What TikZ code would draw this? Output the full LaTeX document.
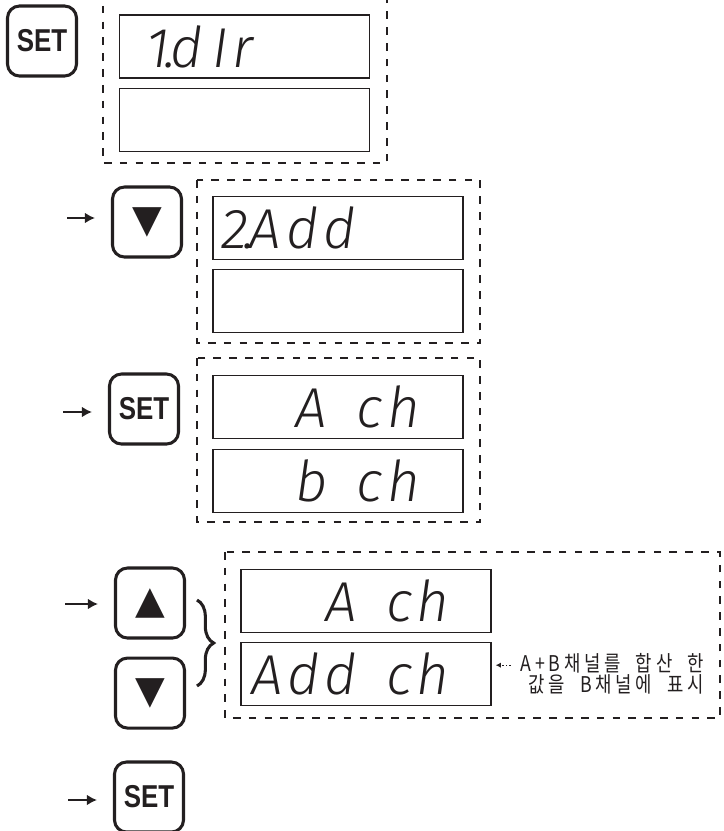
\documentclass[tikz,border=0pt]{standalone}
\usepackage{fontspec}
\setmainfont{Liberation Sans}
\newfontfamily\segfont[LetterSpace=8,ItalicFont={Fira Sans Light Italic}]{Fira Sans}
\newfontfamily\keyfont[FakeStretch=0.82]{Liberation Sans}
\newfontfamily\symfont{DejaVu Sans}
\newfontfamily\kofont[FakeStretch=0.82,LetterSpace=17,WordSpace=2]{Noto Sans CJK KR}
\usetikzlibrary{positioning,arrows.meta,decorations.pathreplacing}
\definecolor{ink}{HTML}{231F20}

\begin{document}
\begin{tikzpicture}[
	x=0.03cm, y=-0.03cm,
	every node/.style={text=ink},
	key/.style={draw=ink, line width=2.6pt, rounded corners=0.36cm, minimum width=2.07cm, minimum height=2.1cm, inner sep=0pt, font=\keyfont\bfseries\fontsize{27}{27}\selectfont},
	tri/.style={key, font=\symfont\fontsize{33}{33}\selectfont},
	lcd/.style={draw=ink, line width=1pt, minimum width=7.5cm, minimum height=1.89cm, inner sep=0pt},
	seg/.style={font=\segfont\itshape\fontsize{48}{48}\selectfont, inner sep=0pt},
	group/.style={draw=ink, line width=1.2pt, dash pattern=on 6.5pt off 7pt},
	arrow/.style={-{Latex[length=3mm,width=3.2mm]}, line width=1.6pt, draw=ink, shorten >=0.48cm},
	notearrow/.style={-{Latex[length=1.6mm,width=1.6mm]}, line width=1pt, dotted, draw=ink, shorten <=0.3cm, shorten >=0.12cm},
	brace/.style={decorate, decoration={brace, amplitude=0.5cm}, line width=2.6pt, draw=ink},
	note/.style={font=\kofont\fontsize{18.5}{16.5}\selectfont, align=right, inner sep=0pt}
	]
	\clip (0,0) rectangle (724,831);
	
	% step 1
	\node[key] (K1) at (42,41) {SET};
	\node[lcd] (D1a) at (244.5,46.5) {};
	\node[lcd, below=0.27cm of D1a] (D1b) {};
	\node[seg, anchor=west] (T1a) at ([xshift=0.81cm]D1a.west) {1\kern-0.08em.\kern-0.1em d\,Ir};
	\draw[group] (103,-10) rectangle (387,163);
	
	% step 2
	\coordinate (a2) at (67,218);
	\node[tri] (K2) at (147,222) {▼};
	\node[lcd] (D2a) at (338,228) {};
	\node[lcd, below=0.27cm of D2a] (D2b) {};
	\node[seg, anchor=west] (T2a) at ([xshift=0.27cm]D2a.west) {2\kern-0.08em.\kern-0.1em Add};
	\draw[group] (197,180) rectangle (480,343);
	\draw[arrow] (a2) -- (a2 -| K2.west);
	
	% step 3
	\coordinate (a3) at (63,412);
	\node[key] (K3) at (144,409) {SET};
	\node[lcd] (D3a) at (338,407) {};
	\node[lcd, below=0.29cm of D3a] (D3b) {};
	\node[seg, anchor=east] (T3a) at ([xshift=-1.29cm]D3a.east) {A \,ch};
	\node[seg, anchor=east] (T3b) at ([xshift=-1.29cm]D3b.east) {b \,ch};
	\draw[group] (197,358) rectangle (480,522);
	\draw[arrow] (a3) -- (a3 -| K3.west);
	
	% step 4
	\coordinate (a4) at (65,604);
	\node[tri] (K4) at (150,603) {▲};
	\node[tri, below=0.51cm of K4] (K5) {▼};
	\node[lcd] (D4a) at (366,601) {};
	\node[lcd, below=0.27cm of D4a] (D4b) {};
	\node[seg, anchor=east] (T4a) at ([xshift=-1.25cm]D4a.east) {A \,ch};
	\node[seg, anchor=east] (T4b) at ([xshift=-1.25cm]D4b.east) {Add \,ch};
	\node[note, anchor=west] (note) at ([xshift=0.87cm]D4b.east) {A+B채널를 합산 한\\값을 B채널에 표시};
	\draw[group] (225,552) rectangle (720,718);
	\draw[arrow] (a4) -- (a4 -| K4.west);
	\draw[brace] (197,600) -- (197,686);
	\draw[notearrow] ([yshift=0.27cm]note.west) -- ([yshift=0.27cm]note.west -| D4b.east);
	
	% step 5
	\coordinate (a5) at (68,800);
	\node[key] (K6) at (149,797) {SET};
	\draw[arrow] (a5) -- (a5 -| K6.west);
	
\end{tikzpicture}
\end{document}
